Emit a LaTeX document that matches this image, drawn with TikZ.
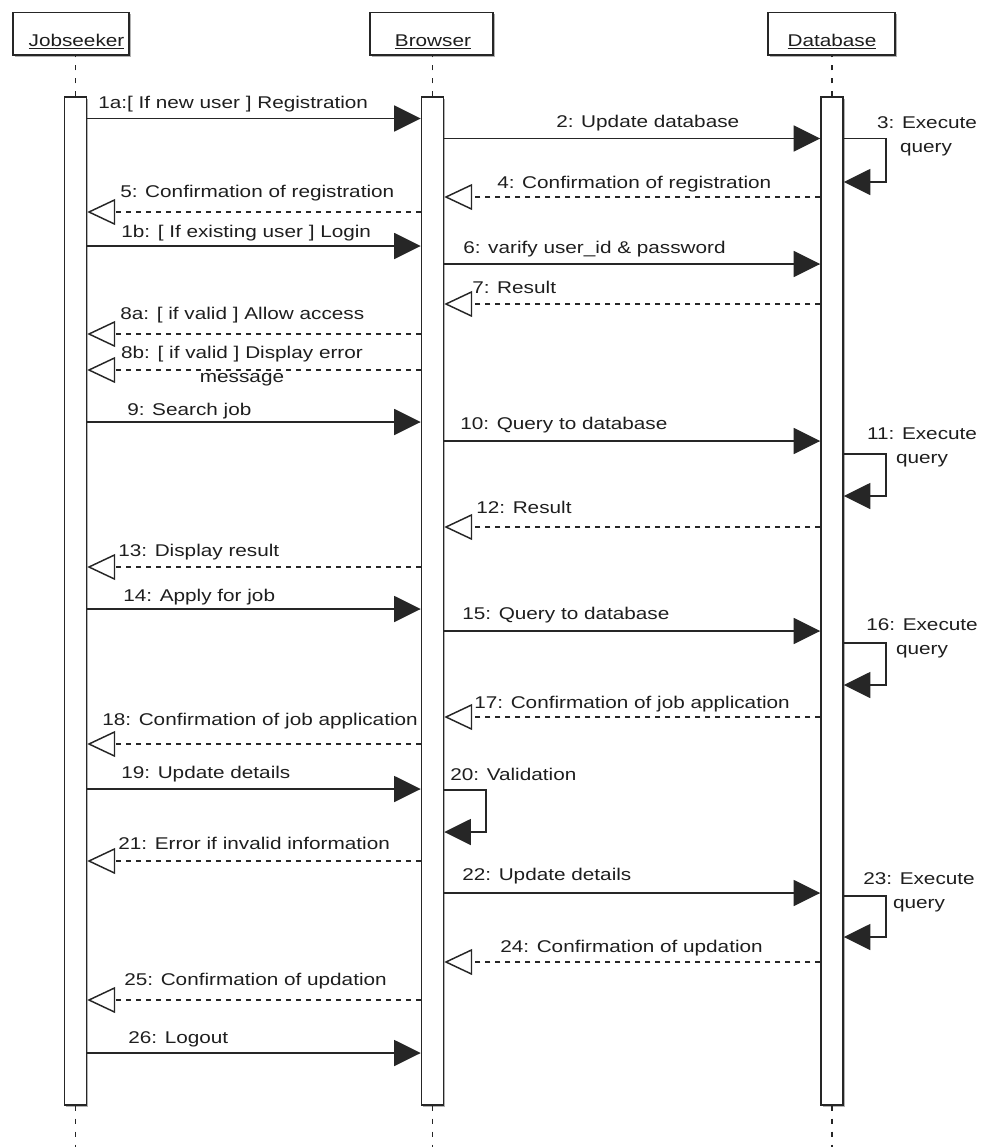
\documentclass[tikz,border=0pt]{standalone}
\usepackage{fontspec}
\setmainfont{Liberation Sans}[FakeStretch=1.22]
\usetikzlibrary{arrows.meta,shadows}

\definecolor{ink}{HTML}{1E1E1E}
\definecolor{edge}{HTML}{262626}

\tikzset{
  every node/.style={font=\fontsize{12.75pt}{18pt}\selectfont, text=ink, inner sep=0pt},
  boxshadow/.style={drop shadow={shadow xshift=1.2pt, shadow yshift=-1.2pt, fill=black!30, opacity=1}},
  headbox/.style={draw=edge, line width=1.1pt, fill=white, boxshadow},
  actbar/.style={draw=edge, line width=1.1pt, fill=white, boxshadow,
                 minimum width=22*0.75pt, minimum height=1008*0.75pt},
  lifeline/.style={draw=edge, line width=1.1pt, dash pattern=on 3.75pt off 6pt},
  syncmsg/.style={draw=edge, line width=1.2pt, -{Triangle[length=20pt,width=19.5pt]}},
  retmsg/.style={draw=edge, line width=1pt, dash pattern=on 3.75pt off 3.75pt,
                 -{Triangle[open,length=21pt,width=19.5pt,line width=1.1pt]}},
  msglabel/.style={anchor=base west},
  notelabel/.style={anchor=base},
}

\begin{document}
\begin{tikzpicture}[x=0.75pt,y=-0.75pt]
\useasboundingbox (0,0) rectangle (992,1147);

% object heads
\node[headbox, minimum width=116*0.75pt, minimum height=42.5*0.75pt] (jhead) at (71,33.75) {};
\node[headbox, minimum width=123*0.75pt, minimum height=42.5*0.75pt] (bhead) at (431.5,33.75) {};
\node[headbox, minimum width=127*0.75pt, minimum height=42.5*0.75pt] (dhead) at (831.5,33.75) {};
\node[anchor=base] (jname) at (76.5,46.5) {\underline{Jobseeker}};
\node[anchor=base] (bname) at (433,46.5) {\underline{Browser}};
\node[anchor=base] (dname) at (832,46.5) {\underline{Database}};

% ends of the lifelines
\coordinate (jend) at (75.5,1147);
\coordinate (bend) at (432.5,1147);
\coordinate (dend) at (832,1147);

% activation bars
\node[actbar] (jbar) at (75.5,601) {};
\node[actbar] (bbar) at (432.5,601) {};
\node[actbar] (dbar) at (832,601) {};

% lifelines
\draw[lifeline] (jbar.north) -- (jbar.north |- jhead.south);
\draw[lifeline] (bbar.north) -- (bbar.north |- bhead.south);
\draw[lifeline] (dbar.north) -- (dbar.north |- dhead.south);
\draw[lifeline] (jbar.south) -- (jend);
\draw[lifeline] (bbar.south) -- (bend);
\draw[lifeline] (dbar.south) -- (dend);

% ---------- Jobseeker -> Browser ----------
\draw[syncmsg] (jbar.east |- 0,118.5) -- (bbar.west |- 0,118.5);
\node[msglabel] (m1a) at (98,108) {1a:[ If new user ] Registration};
\draw[syncmsg] (jbar.east |- 0,246) -- (bbar.west |- 0,246);
\node[msglabel] (m1b) at (121,237) {1b: [ If existing user ] Login};
\draw[syncmsg] (jbar.east |- 0,422) -- (bbar.west |- 0,422);
\node[msglabel] (m9) at (127,415) {9: Search job};
\draw[syncmsg] (jbar.east |- 0,609) -- (bbar.west |- 0,609);
\node[msglabel] (m14) at (123,601) {14: Apply for job};
\draw[syncmsg] (jbar.east |- 0,789) -- (bbar.west |- 0,789);
\node[msglabel] (m19) at (121,778) {19: Update details};
\draw[syncmsg] (jbar.east |- 0,1053) -- (bbar.west |- 0,1053);
\node[msglabel] (m26) at (128,1043) {26: Logout};

% ---------- Browser -> Jobseeker ----------
\draw[retmsg] (bbar.west |- 0,212) -- (jbar.east |- 0,212);
\node[msglabel] (m5) at (120,197) {5: Confirmation of registration};
\draw[retmsg] (bbar.west |- 0,334) -- (jbar.east |- 0,334);
\node[msglabel] (m8a) at (120,319) {8a: [ if valid ] Allow access};
\draw[retmsg] (bbar.west |- 0,370) -- (jbar.east |- 0,370);
\node[notelabel] (m8b) at (242,358) {8b: [ if valid ] Display error};
\node[notelabel] (m8bb) at (242,382) {message};
\draw[retmsg] (bbar.west |- 0,567) -- (jbar.east |- 0,567);
\node[msglabel] (m13) at (118,556) {13: Display result};
\draw[retmsg] (bbar.west |- 0,744) -- (jbar.east |- 0,744);
\node[msglabel] (m18) at (102,725) {18: Confirmation of job application};
\draw[retmsg] (bbar.west |- 0,861) -- (jbar.east |- 0,861);
\node[msglabel] (m21) at (118,849) {21: Error if invalid information};
\draw[retmsg] (bbar.west |- 0,1000) -- (jbar.east |- 0,1000);
\node[msglabel] (m25) at (124,985) {25: Confirmation of updation};

% ---------- Browser -> Database ----------
\draw[syncmsg] (bbar.east |- 0,138.5) -- (dbar.west |- 0,138.5);
\node[msglabel] (m2) at (556,127) {2: Update database};
\draw[syncmsg] (bbar.east |- 0,264) -- (dbar.west |- 0,264);
\node[msglabel] (m6) at (463,253) {6: varify user\_id \& password};
\draw[syncmsg] (bbar.east |- 0,441) -- (dbar.west |- 0,441);
\node[msglabel] (m10) at (460,429) {10: Query to database};
\draw[syncmsg] (bbar.east |- 0,631) -- (dbar.west |- 0,631);
\node[msglabel] (m15) at (462,619) {15: Query to database};
\draw[syncmsg] (bbar.east |- 0,893) -- (dbar.west |- 0,893);
\node[msglabel] (m22) at (462,880) {22: Update details};

% ---------- Database -> Browser ----------
\draw[retmsg] (dbar.west |- 0,197) -- (bbar.east |- 0,197);
\node[msglabel] (m4) at (497,188) {4: Confirmation of registration};
\draw[retmsg] (dbar.west |- 0,304) -- (bbar.east |- 0,304);
\node[msglabel] (m7) at (472,293) {7: Result};
\draw[retmsg] (dbar.west |- 0,527) -- (bbar.east |- 0,527);
\node[msglabel] (m12) at (476,513) {12: Result};
\draw[retmsg] (dbar.west |- 0,717) -- (bbar.east |- 0,717);
\node[msglabel] (m17) at (474,708) {17: Confirmation of job application};
\draw[retmsg] (dbar.west |- 0,962) -- (bbar.east |- 0,962);
\node[msglabel] (m24) at (500,952) {24: Confirmation of updation};

% ---------- self calls ----------
\draw[syncmsg] (dbar.east |- 0,138.5) -| (886,182) -- (dbar.east |- 0,182);
\node[notelabel] (m3) at (927,128) {3: Execute};
\node[notelabel] (m3b) at (926,152) {query};
\draw[syncmsg] (dbar.east |- 0,454) -| (886,496) -- (dbar.east |- 0,496);
\node[notelabel] (m11) at (922,439) {11: Execute};
\node[notelabel] (m11b) at (922,463) {query};
\draw[syncmsg] (dbar.east |- 0,643) -| (886,685) -- (dbar.east |- 0,685);
\node[notelabel] (m16) at (922,630) {16: Execute};
\node[notelabel] (m16b) at (922,654) {query};
\draw[syncmsg] (dbar.east |- 0,896) -| (886,937) -- (dbar.east |- 0,937);
\node[notelabel] (m23) at (919,884) {23: Execute};
\node[notelabel] (m23b) at (919,908) {query};
\draw[syncmsg] (bbar.east |- 0,790) -| (486,832) -- (bbar.east |- 0,832);
\node[msglabel] (m20) at (450,780) {20: Validation};
\end{tikzpicture}
\end{document}
